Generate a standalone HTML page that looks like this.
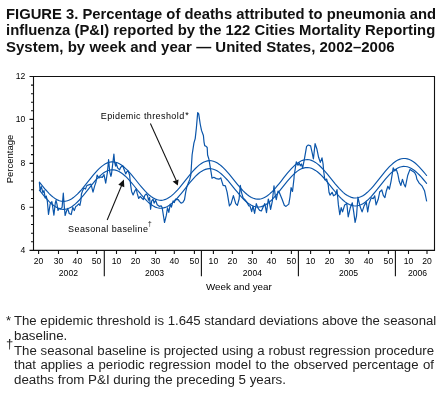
<!DOCTYPE html>
<html><head><meta charset="utf-8">
<style>
html,body{margin:0;padding:0;background:#fff;}
body{width:443px;height:394px;overflow:hidden;position:relative;font-family:"Liberation Sans",sans-serif;color:#000;}
.t{will-change:transform;position:absolute;left:6px;font-weight:bold;font-size:14.6px;line-height:17px;white-space:nowrap;color:#111;transform-origin:0 0;transform:scaleX(1.018);}
.fn{will-change:transform;position:absolute;font-size:12px;line-height:14px;white-space:nowrap;color:#222;transform-origin:0 0;transform:scaleX(1.09);}
.j{text-align:justify;text-align-last:justify;width:381.8px;left:14px;transform:scaleX(1.1);}
svg{position:absolute;left:0;top:0;will-change:transform;}
</style></head><body>
<div class="t" style="top:5.6px;transform:scaleX(1.014)">FIGURE 3. Percentage of deaths attributed to pneumonia and</div>
<div class="t" style="top:21.85px">influenza (P&amp;I) reported by the 122 Cities Mortality Reporting</div>
<div class="t" style="top:38.95px;transform:scaleX(1.028)">System, by week and year — United States, 2002–2006</div>
<svg width="443" height="394" viewBox="0 0 443 394" font-family="Liberation Sans">
<path d="M33.5 76.5H434.5V250.4H33.5Z" stroke="#111" stroke-width="1.1" fill="none"/>
<path d="M29.5 76.5H33.5 M29.5 119.4H33.5 M29.5 163.4H33.5 M29.5 207.3H33.5 M29.5 250.4H33.5 M31.0 85.1H33.5 M31.0 93.7H33.5 M31.0 102.2H33.5 M31.0 110.8H33.5 M31.0 128.2H33.5 M31.0 137.0H33.5 M31.0 145.8H33.5 M31.0 154.6H33.5 M31.0 172.2H33.5 M31.0 181.0H33.5 M31.0 189.7H33.5 M31.0 198.5H33.5 M31.0 215.9H33.5 M31.0 224.5H33.5 M31.0 233.2H33.5 M31.0 241.8H33.5 M38.6 250.4V253.9 M58.5 250.4V253.9 M77.4 250.4V253.9 M96.5 250.4V253.9 M116.5 250.4V253.9 M135.6 250.4V253.9 M155.6 250.4V253.9 M174.3 250.4V253.9 M194.4 250.4V253.9 M213.4 250.4V253.9 M232.4 250.4V253.9 M252.4 250.4V253.9 M271.4 250.4V253.9 M291.4 250.4V253.9 M310.6 250.4V253.9 M329.6 250.4V253.9 M349.3 250.4V253.9 M368.6 250.4V253.9 M388.4 250.4V253.9 M408.5 250.4V253.9 M427 250.4V253.9 M104.3 250.4V276.3 M201.4 250.4V276.3 M298.4 250.4V276.3 M395.4 250.4V276.3" stroke="#111" stroke-width="1.1" fill="none"/>
<path d="M39.4 182.2 L41.4 184.7 L43.4 187.1 L45.4 189.5 L47.4 191.7 L49.4 193.8 L51.4 195.7 L53.4 197.4 L55.4 198.8 L57.4 199.9 L59.4 200.7 L61.4 201.2 L63.4 201.4 L65.4 201.3 L67.4 200.8 L69.4 200.0 L71.4 198.9 L73.4 197.6 L75.4 195.9 L77.4 194.1 L79.4 192.0 L81.4 189.8 L83.4 187.4 L85.4 184.9 L87.4 182.4 L89.4 179.8 L91.4 177.3 L93.4 174.9 L95.4 172.6 L97.4 170.4 L99.4 168.4 L101.4 166.6 L103.4 165.1 L105.4 163.8 L107.4 162.9 L109.4 162.2 L111.4 161.9 L113.4 161.9 L115.4 162.2 L117.4 162.8 L119.4 163.8 L121.4 165.0 L123.4 166.5 L125.4 168.3 L127.4 170.2 L129.4 172.4 L131.4 174.7 L133.4 177.1 L135.4 179.5 L137.4 182.0 L139.4 184.5 L141.4 186.9 L143.4 189.2 L145.4 191.4 L147.4 193.4 L149.4 195.2 L151.4 196.8 L153.4 198.1 L155.4 199.1 L157.4 199.8 L159.4 200.2 L161.4 200.3 L163.4 200.0 L165.4 199.4 L167.4 198.5 L169.4 197.3 L171.4 195.9 L173.4 194.1 L175.4 192.2 L177.4 190.1 L179.4 187.8 L181.4 185.3 L183.4 182.8 L185.4 180.3 L187.4 177.8 L189.4 175.3 L191.4 172.9 L193.4 170.6 L195.4 168.5 L197.4 166.6 L199.4 164.9 L201.4 163.5 L203.4 162.3 L205.4 161.5 L207.4 160.9 L209.4 160.7 L211.4 160.8 L213.4 161.3 L215.4 162.0 L217.4 163.1 L219.4 164.4 L221.4 166.0 L223.4 167.8 L225.4 169.9 L227.4 172.1 L229.4 174.4 L231.4 176.9 L233.4 179.3 L235.4 181.8 L237.4 184.3 L239.4 186.7 L241.4 189.0 L243.4 191.1 L245.4 193.0 L247.4 194.7 L249.4 196.2 L251.4 197.4 L253.4 198.3 L255.4 198.9 L257.4 199.1 L259.4 199.1 L261.4 198.7 L263.4 198.0 L265.4 197.0 L267.4 195.7 L269.4 194.1 L271.4 192.3 L273.4 190.3 L275.4 188.1 L277.4 185.7 L279.4 183.3 L281.4 180.8 L283.4 178.2 L285.4 175.7 L287.4 173.2 L289.4 170.9 L291.4 168.7 L293.4 166.6 L295.4 164.8 L297.4 163.2 L299.4 161.9 L301.4 160.8 L303.4 160.1 L305.4 159.7 L307.4 159.6 L309.4 159.8 L311.4 160.4 L313.4 161.3 L315.4 162.4 L317.4 163.9 L319.4 165.5 L321.4 167.5 L323.4 169.6 L325.4 171.8 L327.4 174.2 L329.4 176.7 L331.4 179.1 L333.4 181.6 L335.4 184.1 L337.4 186.4 L339.4 188.6 L341.4 190.7 L343.4 192.6 L345.4 194.2 L347.4 195.5 L349.4 196.6 L351.4 197.4 L353.4 197.9 L355.4 198.0 L357.4 197.8 L359.4 197.3 L361.4 196.5 L363.4 195.4 L365.4 194.0 L367.4 192.3 L369.4 190.4 L371.4 188.4 L373.4 186.1 L375.4 183.7 L377.4 181.2 L379.4 178.7 L381.4 176.1 L383.4 173.6 L385.4 171.2 L387.4 168.9 L389.4 166.7 L391.4 164.8 L393.4 163.0 L395.4 161.5 L397.4 160.3 L399.4 159.4 L401.4 158.8 L403.4 158.5 L405.4 158.5 L407.4 158.9 L409.4 159.5 L411.4 160.5 L413.4 161.8 L415.4 163.3 L417.4 165.1 L419.4 167.1 L421.4 169.3 L423.4 171.6 L425.4 174.0 L426.6 175.5" stroke="#0a55aa" stroke-width="1.15" fill="none" stroke-linecap="round"/>
<path d="M39.4 190.2 L41.4 192.7 L43.4 195.1 L45.4 197.5 L47.4 199.7 L49.4 201.8 L51.4 203.7 L53.4 205.3 L55.4 206.7 L57.4 207.8 L59.4 208.7 L61.4 209.2 L63.4 209.3 L65.4 209.2 L67.4 208.7 L69.4 208.0 L71.4 206.9 L73.4 205.5 L75.4 203.9 L77.4 202.0 L79.4 200.0 L81.4 197.7 L83.4 195.3 L85.4 192.9 L87.4 190.3 L89.4 187.8 L91.4 185.3 L93.4 182.8 L95.4 180.5 L97.4 178.3 L99.4 176.3 L101.4 174.6 L103.4 173.0 L105.4 171.8 L107.4 170.8 L109.4 170.2 L111.4 169.8 L113.4 169.8 L115.4 170.1 L117.4 170.8 L119.4 171.7 L121.4 173.0 L123.4 174.5 L125.4 176.2 L127.4 178.2 L129.4 180.3 L131.4 182.6 L133.4 185.0 L135.4 187.5 L137.4 190.0 L139.4 192.4 L141.4 194.9 L143.4 197.2 L145.4 199.4 L147.4 201.4 L149.4 203.2 L151.4 204.7 L153.4 206.0 L155.4 207.1 L157.4 207.8 L159.4 208.1 L161.4 208.2 L163.4 207.9 L165.4 207.4 L167.4 206.5 L169.4 205.3 L171.4 203.8 L173.4 202.1 L175.4 200.1 L177.4 198.0 L179.4 195.7 L181.4 193.3 L183.4 190.8 L185.4 188.3 L187.4 185.7 L189.4 183.2 L191.4 180.8 L193.4 178.6 L195.4 176.4 L197.4 174.5 L199.4 172.8 L201.4 171.4 L203.4 170.3 L205.4 169.4 L207.4 168.9 L209.4 168.7 L211.4 168.8 L213.4 169.2 L215.4 170.0 L217.4 171.0 L219.4 172.4 L221.4 174.0 L223.4 175.8 L225.4 177.8 L227.4 180.0 L229.4 182.4 L231.4 184.8 L233.4 187.3 L235.4 189.8 L237.4 192.2 L239.4 194.6 L241.4 196.9 L243.4 199.0 L245.4 201.0 L247.4 202.7 L249.4 204.1 L251.4 205.3 L253.4 206.2 L255.4 206.8 L257.4 207.1 L259.4 207.0 L261.4 206.6 L263.4 205.9 L265.4 204.9 L267.4 203.6 L269.4 202.1 L271.4 200.3 L273.4 198.2 L275.4 196.0 L277.4 193.7 L279.4 191.2 L281.4 188.7 L283.4 186.2 L285.4 183.7 L287.4 181.2 L289.4 178.8 L291.4 176.6 L293.4 174.6 L295.4 172.7 L297.4 171.1 L299.4 169.8 L301.4 168.8 L303.4 168.1 L305.4 167.6 L307.4 167.5 L309.4 167.8 L311.4 168.3 L313.4 169.2 L315.4 170.4 L317.4 171.8 L319.4 173.5 L321.4 175.4 L323.4 177.5 L325.4 179.8 L327.4 182.1 L329.4 184.6 L331.4 187.1 L333.4 189.6 L335.4 192.0 L337.4 194.4 L339.4 196.6 L341.4 198.6 L343.4 200.5 L345.4 202.1 L347.4 203.5 L349.4 204.6 L351.4 205.4 L353.4 205.8 L355.4 206.0 L357.4 205.8 L359.4 205.3 L361.4 204.5 L363.4 203.4 L365.4 202.0 L367.4 200.3 L369.4 198.4 L371.4 196.3 L373.4 194.0 L375.4 191.6 L377.4 189.2 L379.4 186.6 L381.4 184.1 L383.4 181.6 L385.4 179.2 L387.4 176.9 L389.4 174.7 L391.4 172.7 L393.4 171.0 L395.4 169.5 L397.4 168.3 L399.4 167.3 L401.4 166.7 L403.4 166.4 L405.4 166.5 L407.4 166.8 L409.4 167.5 L411.4 168.5 L413.4 169.7 L415.4 171.3 L417.4 173.1 L419.4 175.0 L421.4 177.2 L423.4 179.5 L425.4 181.9 L426.6 183.4" stroke="#0a55aa" stroke-width="1.15" fill="none" stroke-linecap="round"/>
<path d="M39.4 182.7 L40.1 190.5 L41.3 186.6 L42.9 192.7 L44 190.5 L45.2 197.8 L46.3 196.1 L47.4 201.7 L48.5 214.5 L50.2 203.9 L51.9 201.7 L53.9 215.1 L55.3 203 L56 200.3 L57 204.4 L58 210.5 L59 208.4 L60.6 208.9 L62.1 207.4 L63.3 193.2 L64.1 204.4 L65.1 215.5 L66.7 210.5 L67.7 208.4 L69.2 213.5 L71.2 214.5 L72.8 207.4 L74.3 210.5 L75.8 206.4 L77.3 205.4 L78.8 203.9 L79.9 205.4 L80.9 200.3 L81.4 194.2 L82.4 191.2 L83.9 188.1 L85.5 189.1 L86.5 186.1 L88 185.1 L89.5 184.6 L91 184.1 L92 188.1 L93 192.2 L94.6 186.1 L96 182 L97.1 175.1 L98.9 178 L100.6 176.9 L102.3 177.4 L104 174.6 L105.7 183.1 L107.4 172.3 L108.6 159.7 L109.7 171.7 L110.9 176.3 L111.5 174 L113.9 154.1 L114.6 162.2 L115.6 166.2 L116.1 163.2 L117.6 167.8 L119.6 169.8 L120.7 167.3 L122.7 165.7 L124.2 169.8 L125.7 173.9 L126.8 171.8 L128.2 171 L129.6 175.1 L130.6 184.8 L131.6 191.4 L133.1 194.9 L134.6 191.4 L136.2 188.8 L137.2 193.4 L138.7 198.5 L140.2 196.4 L141.7 198 L143.3 199.5 L144.8 195.4 L146.3 193.9 L147.5 195.6 L148.5 200.2 L149.6 197.6 L150.6 209.3 L151.6 201.2 L153.1 199.2 L154.1 203.2 L155.6 200.2 L157.2 204.8 L159.2 206.3 L161.2 205.8 L162.2 207.8 L164.5 222.5 L166.3 215.4 L167.5 207.8 L168.8 212.4 L170.3 204.2 L171.4 207.1 L173.1 200.8 L174.3 202.5 L175.4 199.1 L176.6 199.6 L178.3 199.6 L179.4 201.4 L181.1 203.1 L182.8 202.5 L184.5 199.6 L185.7 192.2 L186.8 187.1 L188.5 182.5 L189.7 179.7 L190.8 175.1 L191.6 163 L192.1 155 L193.9 143.1 L195.2 138.6 L196.4 127.8 L197.7 112.6 L198.7 113.9 L200.2 124 L201.5 130.4 L203.4 135.5 L204 141.8 L204.7 145.6 L205.9 146.2 L207.2 147.5 L207.6 155 L208.9 159.1 L211.2 172.8 L212 178.2 L213.8 177.3 L216.3 178.6 L218.9 179.2 L220.8 177.9 L222 181.9 L223.1 185.3 L225.4 185.9 L227.1 192.1 L229.4 205.9 L231.1 203.6 L233.4 195.6 L235.7 203.6 L237.4 205.3 L239.1 199 L240.3 185.3 L241.4 192.1 L243.1 197.9 L244.9 199.6 L246.6 201.9 L248.9 205.9 L250 205.8 L251.7 211.6 L253 206 L254.6 213.3 L256.3 203.6 L258 208.1 L259.7 210.4 L261.4 211 L263.7 205.8 L264.8 203.6 L266.5 212.7 L268.3 199 L269.4 202.4 L270.6 209.3 L272.3 201.3 L274 185.9 L275.1 194.4 L276.3 199.6 L278 191 L279.1 192.1 L282 199 L284.3 205.3 L286 206.4 L288.8 204.1 L290 197 L291.1 187.6 L292.5 191.5 L294 178.4 L294.1 176 L296.3 161.8 L298 165.3 L299.2 163 L300.3 165.8 L301.5 164 L302.6 168.1 L304.3 159.6 L306.6 146.4 L308.3 145 L310.6 145.9 L312.3 153.3 L313.4 159 L315.1 143.6 L316.8 148.7 L318.6 157.3 L320.3 162.4 L322 157.9 L323.1 164.1 L323.7 171.5 L324.8 179.5 L324.9 179.8 L326.6 179 L328.2 184.8 L329 192.2 L330 195.1 L332.1 192.3 L333.5 195.8 L335.6 194.4 L337 189.6 L338.4 204.9 L339.8 214.7 L341.2 207.7 L342.6 211.9 L344.7 204.9 L346.8 203.5 L348.2 216.8 L350.3 207.7 L352.3 202.8 L353.7 211.9 L355.1 222.4 L356.5 216.1 L357.9 197.2 L360 206.3 L362.1 211.9 L364.2 205.6 L366.3 202.1 L367.7 211.9 L369.1 203.5 L371.2 197.9 L373.3 198.6 L374.7 195.8 L376.1 204.9 L378.2 199.3 L379.5 193 L379.6 192 L381.8 190 L383.3 195.3 L384.9 197.6 L386.4 190.7 L387.9 186.2 L389.4 189.2 L391 181.6 L392.5 172.4 L393.2 167.9 L394.8 170.9 L396.3 169.4 L397.8 174 L399.3 181.6 L400.9 185.4 L402.4 179.3 L403.9 183.9 L405.4 186.9 L407.7 175.5 L410 169.4 L412.3 170.9 L414.6 172.4 L416.1 175.5 L416.9 179.3 L419.2 183.1 L422.2 186.2 L424.5 190.7 L426.6 201" stroke="#0a55aa" stroke-width="1.2" fill="none" stroke-linejoin="round" stroke-linecap="round"/>
<g font-size="8.6" fill="#000"><text x="25.2" y="79.4" text-anchor="end">12</text><text x="25.2" y="122.3" text-anchor="end">10</text><text x="25.2" y="166.3" text-anchor="end">8</text><text x="25.2" y="210.2" text-anchor="end">6</text><text x="25.2" y="253.3" text-anchor="end">4</text><text x="38.6" y="263.9" text-anchor="middle">20</text><text x="58.5" y="263.9" text-anchor="middle">30</text><text x="77.4" y="263.9" text-anchor="middle">40</text><text x="96.5" y="263.9" text-anchor="middle">50</text><text x="116.5" y="263.9" text-anchor="middle">10</text><text x="135.6" y="263.9" text-anchor="middle">20</text><text x="155.6" y="263.9" text-anchor="middle">30</text><text x="174.3" y="263.9" text-anchor="middle">40</text><text x="194.4" y="263.9" text-anchor="middle">50</text><text x="213.4" y="263.9" text-anchor="middle">10</text><text x="232.4" y="263.9" text-anchor="middle">20</text><text x="252.4" y="263.9" text-anchor="middle">30</text><text x="271.4" y="263.9" text-anchor="middle">40</text><text x="291.4" y="263.9" text-anchor="middle">50</text><text x="310.6" y="263.9" text-anchor="middle">10</text><text x="329.6" y="263.9" text-anchor="middle">20</text><text x="349.3" y="263.9" text-anchor="middle">30</text><text x="368.6" y="263.9" text-anchor="middle">40</text><text x="388.4" y="263.9" text-anchor="middle">50</text><text x="408.5" y="263.9" text-anchor="middle">10</text><text x="427" y="263.9" text-anchor="middle">20</text><text x="68.4" y="276.1" text-anchor="middle">2002</text><text x="154.5" y="276.1" text-anchor="middle">2003</text><text x="252.4" y="276.1" text-anchor="middle">2004</text><text x="348.5" y="276.1" text-anchor="middle">2005</text><text x="417.5" y="276.1" text-anchor="middle">2006</text></g>
<text x="206" y="289.8" font-size="9.8" fill="#000">Week and year</text>
<text transform="translate(12.9 183.3) rotate(-90)" font-size="9.5" fill="#000">Percentage</text>
<text x="100.8" y="118.8" font-size="9" letter-spacing="0.4" fill="#000">Epidemic threshold<tspan dx="0.6" dy="-0.6">*</tspan></text>
<text x="68.1" y="231.9" font-size="9" letter-spacing="0.39" fill="#000">Seasonal baseline<tspan dx="-0.2" dy="-5.9" font-size="6.6">†</tspan></text>
<path d="M150.4 123.5L176.2 180.5" stroke="#111" stroke-width="1.05"/><path d="M177.8 185.4L172.6 181.6L178.6 179.4Z" fill="#111"/>
<path d="M107.2 220L122 184.5" stroke="#111" stroke-width="1.05"/><path d="M123.9 179.6L124.3 187.3L118.3 184.8Z" fill="#111"/>
</svg>
<div class="fn" style="left:6px;top:313.7px">*</div>
<div class="fn" style="left:14px;top:313.7px;transform:scaleX(1.097)">The epidemic threshold is 1.645 standard deviations above the seasonal</div>
<div class="fn" style="left:14px;top:328.5px;transform:scaleX(1.11)">baseline.</div>
<div class="fn" style="left:6px;top:337px">†</div>
<div class="fn j" style="top:344px">The seasonal baseline is projected using a robust regression procedure</div>
<div class="fn j" style="top:358.2px">that applies a periodic regression model to the observed percentage of</div>
<div class="fn" style="left:14px;top:373.3px;transform:scaleX(1.111)">deaths from P&amp;I during the preceding 5 years.</div>
</body></html>
